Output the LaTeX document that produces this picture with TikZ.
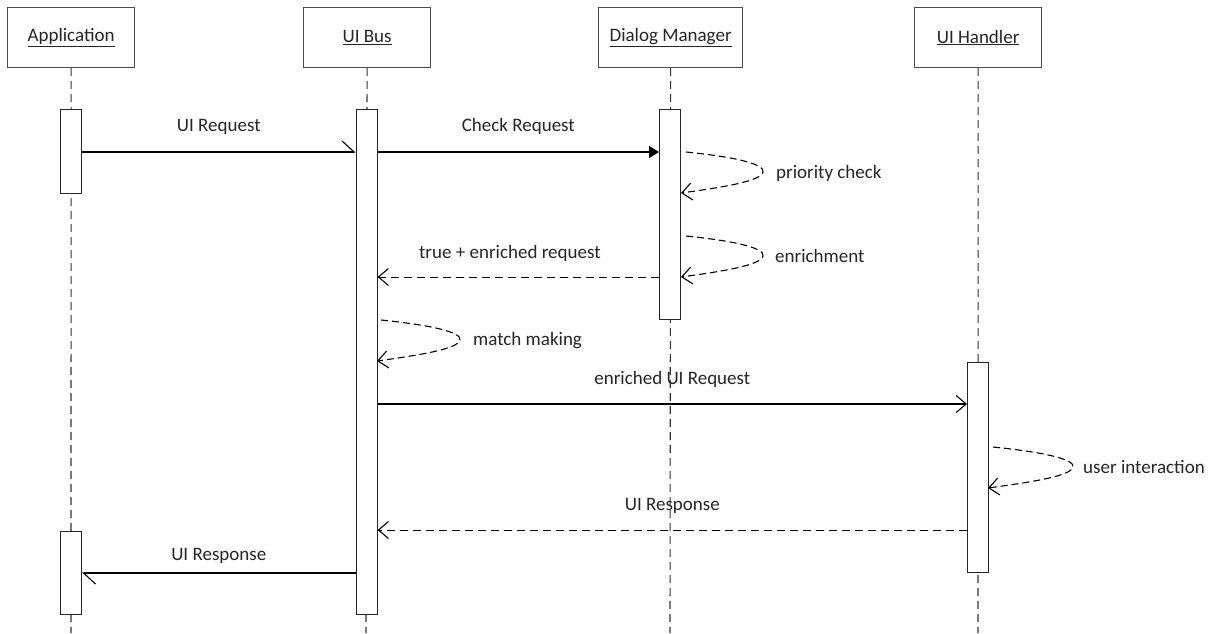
\documentclass[tikz,border=0pt]{standalone}
\usepackage{fontspec}
\setmainfont{Carlito}
\usetikzlibrary{arrows.meta}
\begin{document}
\begin{tikzpicture}[x=1pt,y=-1pt,
  txt/.style={text=black!85, font=\fontsize{19}{22}\selectfont, inner sep=0pt},
  lifebox/.style={draw=black!70, line width=1.2pt, fill=white, minimum height=60pt, anchor=north west, font=\fontsize{19}{22}\selectfont, text=black!85},
  actbar/.style={draw=black!85, line width=1.1pt, fill=white, anchor=north west, minimum width=21pt, inner sep=0pt},
  lifeline/.style={draw=black!80, line width=1.1pt, dash pattern=on 8pt off 5pt},
  msg/.style={draw=black, line width=1.1pt},
  ret/.style={draw=black, line width=1pt, dash pattern=on 8pt off 5pt},
  openhead/.style={-{Straight Barb[length=10pt,width=17pt,line width=1.1pt]}},
  halfhead/.style={-{Straight Barb[left,length=12pt,width=22pt,line width=1.1pt]}},
  filledhead/.style={-{Triangle[length=10pt,width=12pt]}},
  loop/.style={draw=black, line width=1.1pt, dash pattern=on 7pt off 4pt, -{Straight Barb[length=10pt,width=17pt,line width=1.1pt]}}
]
\useasboundingbox (0,0) rectangle (1212,633);
\fill[white] (0,0) rectangle (1212,633);

% lifeline heads
\node[lifebox, minimum width=127pt] (app) at (7,7) {\underline{Application}};
\node[lifebox, minimum width=127pt] (bus) at (303,7) {\underline{UI Bus}};
\node[lifebox, minimum width=144pt] (dm) at (598,7) {\underline{Dialog Manager}};
\node[lifebox, minimum width=127pt] (uh) at (914,7) {\underline{UI Handler}};

% lifeline ends
\coordinate (append) at (71,633);
\coordinate (busend) at (366,633);
\coordinate (dmend) at (670,633);
\coordinate (uhend) at (978,633);
\draw[lifeline] (app.south) -- (append);
\draw[lifeline] (bus.south) -- (busend);
\draw[lifeline] (dm.south) -- (dmend);
\draw[lifeline] (uh.south) -- (uhend);

% activation bars
\node[actbar, minimum height=84pt] (ab1) at (60,109) {};
\node[actbar, minimum height=83pt] (ab2) at (60,531) {};
\node[actbar, minimum height=505pt] (bb) at (355.5,109) {};
\node[actbar, minimum height=210pt] (db) at (659,109) {};
\node[actbar, minimum height=210pt] (hb) at (967,362) {};

% message levels
\coordinate (y1) at (0,152);
\coordinate (y2) at (0,277);
\coordinate (y3) at (0,404);
\coordinate (y4) at (0,530);
\coordinate (y5) at (0,573);

% messages
\draw[msg, halfhead] (ab1.east |- y1) -- node[txt, above=17pt, pos=0.5] (l1) {UI Request} (bb.west |- y1);
\draw[msg, filledhead] (bb.east |- y1) -- node[txt, above=17pt, pos=0.5] (l2) {Check Request} (db.west |- y1);
\draw[ret, openhead] (db.west |- y2) -- node[txt, above=15pt, pos=0.53] (l3) {true + enriched request} (bb.east |- y2);
\draw[msg, openhead] (bb.east |- y3) -- node[txt, above=16pt, pos=0.5] (l4) {enriched UI Request} (hb.west |- y3);
\draw[ret, openhead] (hb.west |- y4) -- node[txt, above=16pt, pos=0.5] (l5) {UI Response} (bb.east |- y4);
\draw[msg, halfhead] (bb.west |- y5) -- node[txt, above=9pt, pos=0.5] (l6) {UI Response} (ab2.east |- y5);

% self loops
\coordinate (pc0) at (686,152);
\coordinate (pc1) at (681,193);
\draw[loop] (pc0) .. controls (735,157) and (765,164) .. (763,172) .. controls (761,181) and (725,187) .. (pc1);
\node[txt, anchor=west] (lpc) at (776,173) {priority check};

\coordinate (en0) at (686,236);
\coordinate (en1) at (681,277);
\draw[loop] (en0) .. controls (735,241) and (765,248) .. (763,256) .. controls (761,265) and (725,271) .. (en1);
\node[txt, anchor=west] (len) at (775,256) {enrichment};

\coordinate (mm0) at (381,320);
\coordinate (mm1) at (377,361);
\draw[loop] (mm0) .. controls (430,325) and (462,332) .. (460,340) .. controls (458,349) and (420,355) .. (mm1);
\node[txt, anchor=west] (lmm) at (473,341) {match making};

\coordinate (ui0) at (993,447);
\coordinate (ui1) at (988,488);
\draw[loop] (ui0) .. controls (1042,452) and (1075,459) .. (1073,467) .. controls (1071,476) and (1032,482) .. (ui1);
\node[txt, anchor=west] (lui) at (1083,467) {user interaction};
\end{tikzpicture}
\end{document}
